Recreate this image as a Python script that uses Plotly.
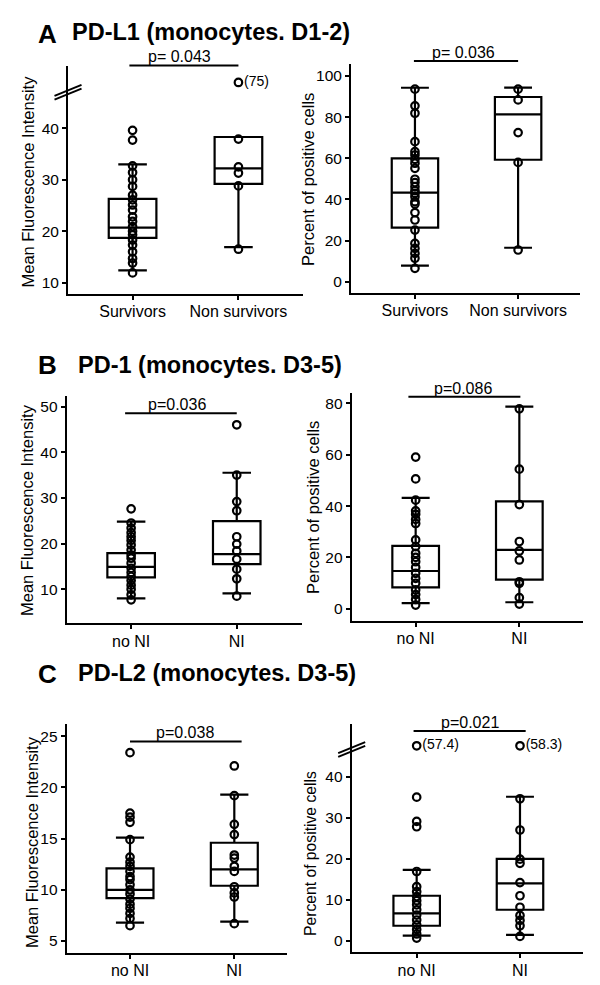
import plotly.graph_objects as go

W, H = 600, 985
PAD = 8  # body margin of the html page
FONT = "Liberation Sans, Arial, Helvetica, sans-serif"

# ---- data ----
surv_cats = ["Survivors", "Non survivors"]
ni_cats = ["no NI", "NI"]

# A  PD-L1, monocytes D1-2 : MFI
a_mfi_surv = [39.6, 37.7, 32.7, 31.4, 30.0, 28.7, 27.0, 26.1, 25.1, 24.1, 22.8,
              21.9, 20.9, 20.0, 19.3, 18.3, 17.3, 16.0, 14.7, 13.8, 11.9]
a_mfi_non = [37.9, 32.5, 31.3, 28.8, 16.5]
a_mfi_out = [[], [75]]
a_mfi_q1, a_mfi_med, a_mfi_q3 = [18.7, 29.2], [20.7, 32.2], [26.3, 38.3]
a_mfi_lo, a_mfi_hi = [12.4, 16.9], [33.0, 38.3]

# A  PD-L1 : percent positive
a_pct_surv = [93.6, 85.5, 81.9, 68.1, 63.2, 61.6, 59.5, 57.6, 55.1, 49.8, 48.2, 46.2,
              44.3, 43.0, 41.3, 38.9, 37.8, 33.6, 30.0, 25.1, 18.6, 16.2, 13.8, 11.4, 6.5]
a_pct_non = [93.6, 88.4, 72.5, 58.0, 15.4]
a_pct_q1, a_pct_med, a_pct_q3 = [26.3, 59.3], [43.3, 81.4], [60.0, 89.8]
a_pct_lo, a_pct_hi = [7.8, 16.5], [94.3, 94.4]

# B  PD-1, monocytes D3-5 : MFI
b_mfi_noni = [27.6, 24.5, 23.4, 22.4, 21.5, 20.7, 19.7, 18.6, 17.5, 16.8, 15.7, 14.6,
              13.7, 12.8, 11.9, 10.9, 10.0, 8.8, 7.7]
b_mfi_ni = [46.0, 35.0, 29.2, 27.2, 21.5, 19.9, 18.4, 16.6, 14.4, 12.3, 8.5]
b_mfi_q1, b_mfi_med, b_mfi_q3 = [12.6, 15.5], [14.9, 17.7], [17.9, 24.9]
b_mfi_lo, b_mfi_hi = [8.0, 9.1], [24.8, 35.5]

# B  PD-1 : percent positive
b_pct_noni = [59.1, 50.6, 42.3, 38.1, 36.8, 34.8, 33.2, 26.8, 24.2, 21.6, 20.0, 18.3,
              16.1, 13.8, 11.8, 9.9, 7.3, 5.5, 3.6, 1.4]
b_pct_ni = [77.9, 54.4, 40.6, 26.2, 22.5, 19.0, 10.5, 9.9, 4.3, 1.8]
b_pct_q1, b_pct_med, b_pct_q3 = [8.3, 11.3], [14.7, 22.9], [24.5, 41.8]
b_pct_lo, b_pct_hi = [2.2, 2.5], [43.2, 78.8]

# C  PD-L2, monocytes D3-5 : MFI
c_mfi_noni = [23.4, 17.5, 17.1, 16.6, 14.9, 13.2, 12.7, 12.3, 11.8, 11.3, 11.0, 10.5,
              10.0, 9.6, 9.1, 8.6, 8.2, 7.7, 7.2, 6.5]
c_mfi_ni = [22.1, 19.2, 16.4, 15.4, 13.4, 13.1, 12.3, 11.8, 10.3, 9.7, 9.3, 6.7]
c_mfi_q1, c_mfi_med, c_mfi_q3 = [9.2, 10.4], [10.0, 12.0], [12.1, 14.6]
c_mfi_lo, c_mfi_hi = [6.8, 6.9], [15.1, 19.3]

# C  PD-L2 : percent positive
c_pct_noni = [35.0, 29.1, 27.8, 16.9, 13.2, 12.0, 10.8, 9.8, 8.8, 7.6, 6.3, 5.1,
              3.9, 2.8, 1.7, 0.7]
c_pct_ni = [34.6, 27.0, 19.9, 18.9, 14.2, 11.0, 8.2, 6.2, 5.0, 3.7, 1.1]
c_pct_out = [[57.4], [58.3]]
c_pct_q1, c_pct_med, c_pct_q3 = [3.7, 7.6], [6.7, 14.0], [11.0, 20.0]
c_pct_lo, c_pct_hi = [1.3, 1.5], [17.3, 35.1]

p_values = ["p= 0.043", "p= 0.036", "p=0.036", "p=0.086", "p=0.038", "p=0.021"]

mfi_title = "Mean Fluorescence Intensity"
pct_title = "Percent of positive cells"

panels = [
    dict(cats=surv_cats, pts=[a_mfi_surv, a_mfi_non], out=a_mfi_out,
         q1=a_mfi_q1, med=a_mfi_med, q3=a_mfi_q3, lo=a_mfi_lo, hi=a_mfi_hi),
    dict(cats=surv_cats, pts=[a_pct_surv, a_pct_non], out=[[], []],
         q1=a_pct_q1, med=a_pct_med, q3=a_pct_q3, lo=a_pct_lo, hi=a_pct_hi),
    dict(cats=ni_cats, pts=[b_mfi_noni, b_mfi_ni], out=[[], []],
         q1=b_mfi_q1, med=b_mfi_med, q3=b_mfi_q3, lo=b_mfi_lo, hi=b_mfi_hi),
    dict(cats=ni_cats, pts=[b_pct_noni, b_pct_ni], out=[[], []],
         q1=b_pct_q1, med=b_pct_med, q3=b_pct_q3, lo=b_pct_lo, hi=b_pct_hi),
    dict(cats=ni_cats, pts=[c_mfi_noni, c_mfi_ni], out=[[], []],
         q1=c_mfi_q1, med=c_mfi_med, q3=c_mfi_q3, lo=c_mfi_lo, hi=c_mfi_hi),
    dict(cats=ni_cats, pts=[c_pct_noni, c_pct_ni], out=c_pct_out,
         q1=c_pct_q1, med=c_pct_med, q3=c_pct_q3, lo=c_pct_lo, hi=c_pct_hi),
]

# ---- layout of each panel (pixels in the 600x985 page) ----
looks = [
    dict(px=(68, 303), py=(66, 294), yr=(7.8, 52.1), xr=(-0.61, 1.61), ticks=[10, 20, 30, 40],
         title=mfi_title, tpos=(27.5, 182), tsize=16.5, bar=(-0.03, 1.0), bar_y=52.2, p_x=0.44,
         brk=47.0, show=48.9),
    dict(px=(351, 580), py=(64.3, 292.7), yr=(-5.35, 105.7), xr=(-0.62, 1.6),
         ticks=[0, 20, 40, 60, 80, 100], title=pct_title, tpos=(308, 180), tsize=16.5,
         bar=(-0.01, 1.0), bar_y=107.3, p_x=0.47),
    dict(px=(66.7, 301.7), py=(396, 623.3), yr=(2.56, 52.3), xr=(-0.61, 1.615),
         ticks=[10, 20, 30, 40, 50], title=mfi_title, tpos=(27, 510), tsize=16.5,
         bar=(-0.057, 1.0), bar_y=48.5, p_x=0.43),
    dict(px=(351.7, 583.3), py=(392.7, 621), yr=(-4.8, 84.2), xr=(-0.617, 1.617),
         ticks=[0, 20, 40, 60, 80], title=pct_title, tpos=(313, 508), tsize=16.5,
         bar=(-0.07, 1.01), bar_y=82.6, p_x=0.46),
    dict(px=(66.7, 287.3), py=(724, 952.7), yr=(3.86, 26.2), xr=(-0.607, 1.508),
         ticks=[5, 10, 15, 20, 25], title=mfi_title, tpos=(32, 842), tsize=16.5,
         bar=(0.0, 1.07), bar_y=24.5, p_x=0.53),
    dict(px=(351.7, 582.7), py=(724, 952.3), yr=(-2.76, 52.8), xr=(-0.629, 1.607),
         ticks=[0, 10, 20, 30, 40], title=pct_title, tpos=(310, 854), tsize=15.7,
         bar=(-0.03, 1.055), bar_y=51.1, p_x=0.52, brk=46.6, show=47.5),
]

headers = [("A", "PD-L1 (monocytes. D1-2)", 34, 32, 70),
           ("B", "PD-1 (monocytes. D3-5)", 365, 365, 76),
           ("C", "PD-L2 (monocytes. D3-5)", 674, 673.3, 76)]

FW, FH = W - PAD, H - PAD  # figure drawn inside the page margin


def fx(x):
    return (x - PAD) / FW


def fy(y):
    return 1 - (y - PAD) / FH


def ypaper(lk, v):
    top, bot = fy(lk["py"][0]), fy(lk["py"][1])
    r0, r1 = lk["yr"]
    return bot + (v - r0) / (r1 - r0) * (top - bot)


marker = dict(symbol="circle-open", size=7.5, color="black", line=dict(width=2.2))

fig = go.Figure()
shapes, annotations = [], []
layout = {}

for i, (pn, lk) in enumerate(zip(panels, looks), start=1):
    xa, ya = f"x{i}", f"y{i}"
    fig.add_trace(go.Box(
        x=pn["cats"], q1=pn["q1"], median=pn["med"], q3=pn["q3"],
        lowerfence=pn["lo"], upperfence=pn["hi"], width=0.45, whiskerwidth=0.6,
        line=dict(color="black", width=2.2), fillcolor="rgba(0,0,0,0)",
        boxpoints=False, showlegend=False, hoverinfo="skip", xaxis=xa, yaxis=ya))
    for cat, vals, outs in zip(pn["cats"], pn["pts"], pn["out"]):
        fig.add_trace(go.Scatter(
            x=[cat] * len(vals), y=vals, mode="markers", cliponaxis=False,
            marker=marker, showlegend=False, xaxis=xa, yaxis=ya))
        if outs:
            fig.add_trace(go.Scatter(
                x=[cat] * len(outs), y=[lk["show"]] * len(outs), mode="markers+text",
                text=[f"({v:g})" for v in outs], textposition="middle right",
                textfont=dict(family=FONT, size=14, color="black"), cliponaxis=False,
                marker=marker, showlegend=False, xaxis=xa, yaxis=ya))

    axis_common = dict(showline=True, linecolor="black", linewidth=2, ticks="outside",
                       ticklen=4, tickwidth=2, tickcolor="black", showgrid=False,
                       zeroline=False, fixedrange=True)
    layout[f"xaxis{i}"] = dict(axis_common, domain=[fx(lk["px"][0]), fx(lk["px"][1])],
                               anchor=ya, type="category", categoryarray=pn["cats"],
                               range=list(lk["xr"]), ticklabelstandoff=-2,
                               tickfont=dict(family=FONT, size=16, color="black"))
    layout[f"yaxis{i}"] = dict(axis_common, domain=[fy(lk["py"][1]), fy(lk["py"][0])],
                               anchor=xa, range=list(lk["yr"]), tickvals=lk["ticks"],
                               tickfont=dict(family=FONT, size=15.5, color="black"))

    # significance bar and p value
    yb = ypaper(lk, lk["bar_y"])
    shapes.append(dict(type="line", xref=xa, yref="paper", x0=lk["bar"][0], x1=lk["bar"][1],
                       y0=yb, y1=yb, line=dict(color="black", width=2)))
    annotations.append(dict(text=p_values[i - 1], xref=xa, yref="paper", x=lk["p_x"], y=yb,
                            xanchor="center", yanchor="bottom", yshift=-2, showarrow=False,
                            font=dict(family=FONT, size=16, color="black")))
    # y axis title
    annotations.append(dict(text=lk["title"], xref="paper", yref="paper",
                            x=fx(lk["tpos"][0]), y=fy(lk["tpos"][1]), textangle=-90,
                            xanchor="center", yanchor="middle", showarrow=False,
                            font=dict(family=FONT, size=lk["tsize"], color="black")))
    # axis break marks
    if "brk" in lk:
        yc = ypaper(lk, lk["brk"])
        x_ax = fx(lk["px"][0])
        for off in (1.9, -1.9):
            shapes.append(dict(type="line", xref="paper", yref="paper",
                               x0=x_ax - 13.5 / FW, x1=x_ax + 13.5 / FW,
                               y0=yc + (off - 5.5) / FH, y1=yc + (off + 5.5) / FH,
                               line=dict(color="black", width=2)))

for letter, text, ly, ty, tx in headers:
    annotations.append(dict(text=f"<b>{letter}</b>", xref="paper", yref="paper",
                            x=fx(47.5), y=fy(ly), xanchor="center", yanchor="middle",
                            showarrow=False, font=dict(family=FONT, size=26, color="black")))
    annotations.append(dict(text=f"<b>{text}</b>", xref="paper", yref="paper",
                            x=fx(tx), y=fy(ty), xanchor="left", yanchor="middle",
                            showarrow=False, font=dict(family=FONT, size=23.5, color="black")))

fig.update_layout(
    width=FW, height=FH, margin=dict(l=0, r=0, t=0, b=0),
    paper_bgcolor="white", plot_bgcolor="white",
    boxmode="overlay", showlegend=False,
    shapes=shapes, annotations=annotations,
    **layout,
)

fig.write_html("out.html")
